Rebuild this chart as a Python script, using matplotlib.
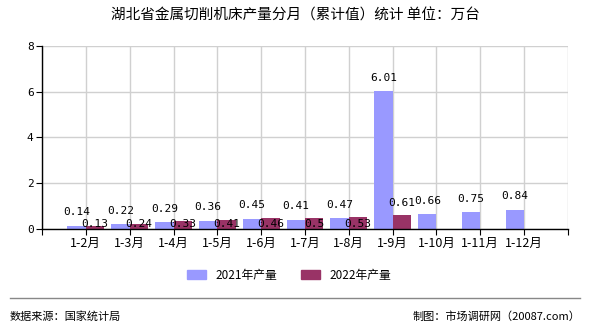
import numpy as np
import matplotlib
matplotlib.use("Agg")
import matplotlib.pyplot as plt
from matplotlib.patches import Patch
from matplotlib.lines import Line2D

plt.rcParams['font.family'] = ['Noto Sans CJK SC', 'DejaVu Sans']

months = ["1-2月", "1-3月", "1-4月", "1-5月", "1-6月", "1-7月",
          "1-8月", "1-9月", "1-10月", "1-11月", "1-12月"]
vals_2021 = [0.14, 0.22, 0.29, 0.36, 0.45, 0.41, 0.47, 6.01, 0.66, 0.75, 0.84]
vals_2022 = [0.13, 0.24, 0.33, 0.41, 0.46, 0.5, 0.53, 0.61]
labels_2022 = ["0.13", "0.24", "0.33", "0.41", "0.46", "0.5", "0.53", "0.61"]

C21 = "#9999ff"
C22 = "#993366"

fig = plt.figure(figsize=(5.9, 3.3), dpi=100)
ax = fig.add_axes([0.0712, 0.306, 0.8915, 0.555])

x21 = np.arange(1, len(vals_2021) + 1)
x22 = np.arange(1, len(vals_2022) + 1)
w = 0.42
ax.bar(x21 - w / 2, vals_2021, width=w, color=C21, zorder=2)
ax.bar(x22 + w / 2, vals_2022, width=w, color=C22, zorder=2)

ax.set_xlim(0, 12)
ax.set_ylim(0, 8)
ax.set_yticks([0, 2, 4, 6, 8])
ax.set_xticks(np.arange(0, 13))
ax.set_xticklabels([""] + months + [""])
ax.tick_params(axis="both", labelsize=9, length=4, direction="out", color="black", pad=2)
for lbl in ax.get_yticklabels():
    lbl.set_family("DejaVu Sans Mono")
    lbl.set_fontsize(8)
ax.grid(True, color="#d0d0d0", linewidth=1, zorder=0)
for s in ["top", "right"]:
    ax.spines[s].set_visible(False)
ax.spines["left"].set_linewidth(1)
ax.spines["bottom"].set_linewidth(1)

mono = dict(family="DejaVu Sans Mono", fontsize=8, ha="center")
for xi, v in zip(x21, vals_2021):
    ax.annotate(f"{v:.2f}", (xi - w / 2, v), xytext=(0, 6), textcoords="offset points",
                va="bottom", **mono)
for i, (xi, v, t) in enumerate(zip(x22, vals_2022, labels_2022)):
    if vals_2021[i] > 2 * v:
        ax.annotate(t, (xi + w / 2, v), xytext=(0, 5), textcoords="offset points",
                    va="bottom", **mono)
    else:
        ax.annotate(t, (xi + w / 2, 0), xytext=(0, 0), textcoords="offset points",
                    va="bottom", **mono)

fig.text(0.5, 0.952, "湖北省金属切削机床产量分月（累计值）统计 单位：万台",
         ha="center", va="center", fontsize=10.5)

handles = [Patch(color=C21), Patch(color=C22)]
fig.legend(handles, ["2021年产量", "2022年产量"], loc="center",
           bbox_to_anchor=(0.49, 0.165), ncol=2, frameon=False, fontsize=8.5,
           handlelength=1.6, handleheight=0.8, columnspacing=2.0)

fig.add_artist(Line2D([0.017, 0.983], [0.097, 0.097], color="#888888", linewidth=1))
fig.text(0.017, 0.042, "数据来源：国家统计局", ha="left", va="center", fontsize=8)
fig.text(0.983, 0.042, "制图：市场调研网（20087.com）", ha="right", va="center", fontsize=8)

fig.savefig("out.png", dpi=100)
